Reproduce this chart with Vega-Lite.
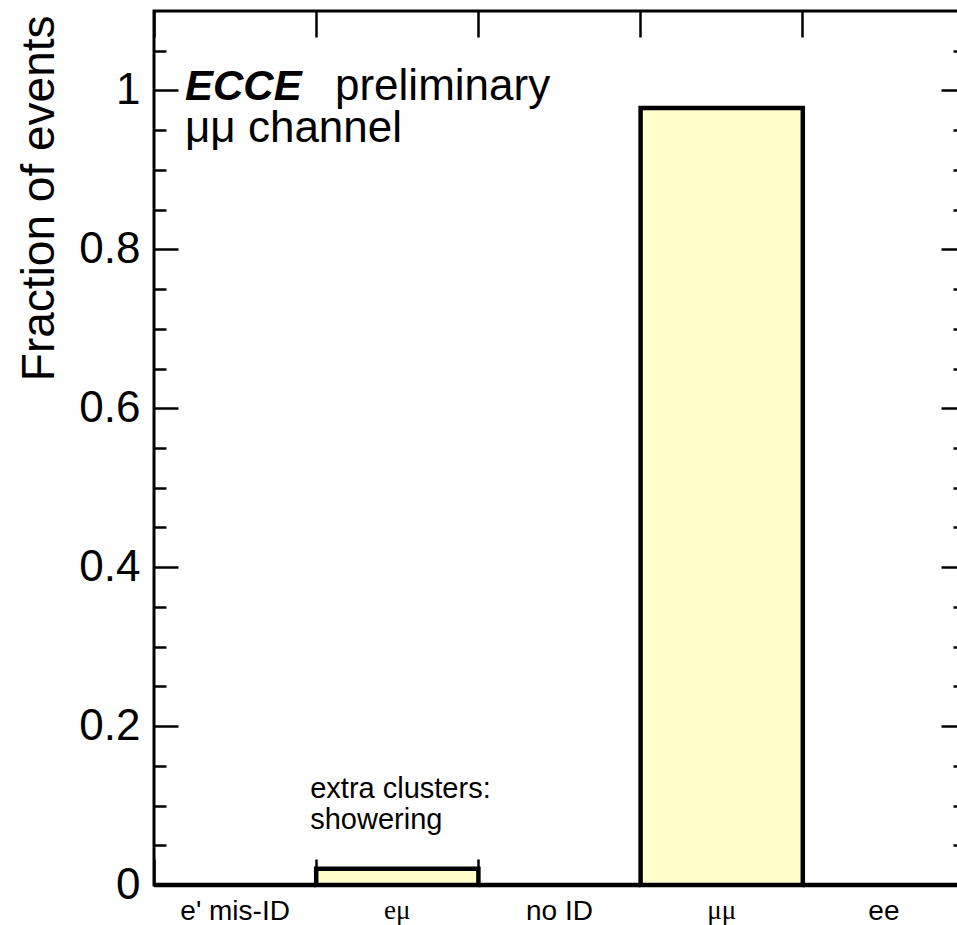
{
  "$schema": "https://vega.github.io/schema/vega-lite/v6.json",
  "width": 811,
  "height": 874,
  "autosize": {"type": "none"},
  "padding": {"left": 154, "top": 11, "right": -8, "bottom": 40},
  "background": "white",
  "config": {
    "font": "Liberation Sans",
    "view": {"stroke": "black", "strokeWidth": 3},
    "axis": {
      "domain": false,
      "grid": false,
      "tickColor": "black",
      "tickWidth": 2.5,
      "labelColor": "black",
      "titleColor": "black",
      "zindex": 1
    }
  },
  "resolve": {"axis": {"x": "independent", "y": "independent"}},
  "layer": [
    {
      "data": {
        "values": [
          {"channel": "e' mis-ID", "fraction": 0.0},
          {"channel": "eμ", "fraction": 0.0204},
          {"channel": "no ID", "fraction": 0.0},
          {"channel": "μμ", "fraction": 0.978},
          {"channel": "ee", "fraction": 0.0}
        ]
      },
      "mark": {"type": "bar", "fill": "#ffffcc", "stroke": "black", "strokeWidth": 4.5, "strokeJoin": "miter"},
      "encoding": {
        "x": {
          "field": "channel",
          "type": "nominal",
          "sort": null,
          "scale": {"domain": ["e' mis-ID", "eμ", "no ID", "μμ", "ee"], "paddingInner": 0, "paddingOuter": 0},
          "axis": {
            "orient": "bottom",
            "title": null,
            "bandPosition": 0,
            "tickSize": -26,
            "labelPadding": 38,
            "labelAngle": 0,
            "labelFontSize": {"condition": {"test": "indexof(datum.value, 'μ') >= 0", "value": 27}, "value": 28},
            "labelFont": {"condition": {"test": "indexof(datum.value, 'μ') >= 0", "value": "Liberation Serif"}, "value": "Liberation Sans"}
          }
        },
        "y": {
          "field": "fraction",
          "type": "quantitative",
          "scale": {"domain": [0, 1.1], "nice": false},
          "axis": {
            "orient": "left",
            "values": [0, 0.2, 0.4, 0.6, 0.8, 1],
            "format": "~g",
            "tickSize": -24,
            "labelPadding": 38,
            "labelFontSize": 44,
            "title": "Fraction of events",
            "titleFontSize": 46,
            "titleFontWeight": "normal",
            "titleAngle": -90,
            "titleX": -101,
            "titleY": 4,
            "titleAlign": "right",
            "titleBaseline": "alphabetic"
          }
        }
      }
    },
    {
      "data": {"values": [{"note": "ECCE", "channel": "e' mis-ID", "pos": 0.988}]},
      "mark": {"type": "text", "align": "left", "baseline": "alphabetic", "dx": 31, "fontSize": 42, "fontWeight": "bold", "fontStyle": "italic", "color": "black"},
      "encoding": {
        "x": {
          "field": "channel",
          "type": "nominal",
          "bandPosition": 0,
          "axis": {"orient": "top", "title": null, "bandPosition": 0, "tickSize": -26, "labels": false}
        },
        "y": {
          "field": "pos",
          "type": "quantitative",
          "scale": {"domain": [0, 1.1], "nice": false},
          "axis": {
            "orient": "left",
            "title": null,
            "labels": false,
            "tickSize": -12,
            "values": [0.05, 0.1, 0.15, 0.25, 0.3, 0.35, 0.45, 0.5, 0.55, 0.65, 0.7, 0.75, 0.85, 0.9, 0.95, 1.05]
          }
        },
        "text": {"field": "note"}
      }
    },
    {
      "data": {"values": [{"note": "preliminary", "channel": "e' mis-ID", "pos": 0.988}]},
      "mark": {"type": "text", "align": "left", "baseline": "alphabetic", "dx": 181, "fontSize": 44, "color": "black"},
      "encoding": {
        "x": {"field": "channel", "type": "nominal", "bandPosition": 0, "axis": null},
        "y": {
          "field": "pos",
          "type": "quantitative",
          "scale": {"domain": [0, 1.1], "nice": false},
          "axis": {"orient": "right", "title": null, "labels": false, "tickSize": -24, "values": [0, 0.2, 0.4, 0.6, 0.8, 1]}
        },
        "text": {"field": "note"}
      }
    },
    {
      "data": {"values": [{"note": "μμ channel", "channel": "e' mis-ID", "pos": 0.935}]},
      "mark": {"type": "text", "align": "left", "baseline": "alphabetic", "dx": 31, "fontSize": 44, "color": "black"},
      "encoding": {
        "x": {"field": "channel", "type": "nominal", "bandPosition": 0, "axis": null},
        "y": {
          "field": "pos",
          "type": "quantitative",
          "scale": {"domain": [0, 1.1], "nice": false},
          "axis": {
            "orient": "right",
            "title": null,
            "labels": false,
            "tickSize": -12,
            "values": [0.05, 0.1, 0.15, 0.25, 0.3, 0.35, 0.45, 0.5, 0.55, 0.65, 0.7, 0.75, 0.85, 0.9, 0.95, 1.05]
          }
        },
        "text": {"field": "note"}
      }
    },
    {
      "data": {
        "values": [
          {"note": "extra clusters:", "channel": "eμ", "pos": 0.11},
          {"note": "showering", "channel": "eμ", "pos": 0.071}
        ]
      },
      "mark": {"type": "text", "align": "left", "baseline": "alphabetic", "dx": -6, "fontSize": 29, "color": "black"},
      "encoding": {
        "x": {"field": "channel", "type": "nominal", "bandPosition": 0, "axis": null},
        "y": {"field": "pos", "type": "quantitative", "scale": {"domain": [0, 1.1], "nice": false}, "axis": null},
        "text": {"field": "note"}
      }
    }
  ]
}
